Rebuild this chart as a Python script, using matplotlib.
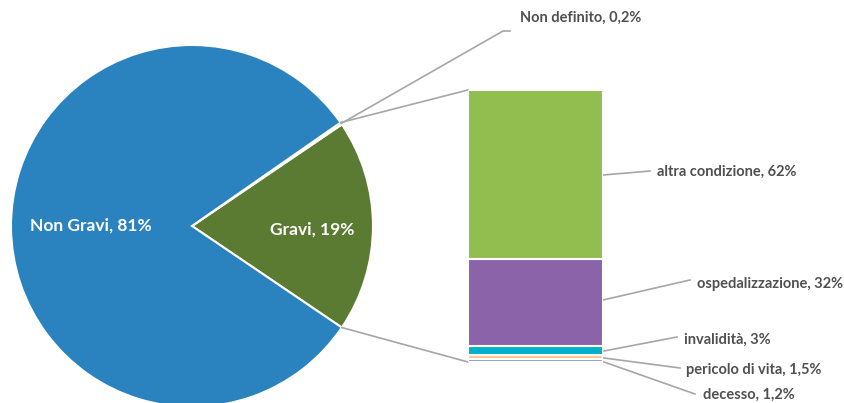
import matplotlib

matplotlib.use("Agg")
import matplotlib.pyplot as plt
import numpy as np

plt.rcParams["font.family"] = ["Lato", "DejaVu Sans"]

W, H = 844, 403

# pie: main split
pie_labels = ["Gravi", "Non definito", "Non Gravi"]
pie_values = [19, 0.2, 81]
pie_texts = ["19%", "0,2%", "81%"]
pie_colors = ["#5B7B32", "#A5A5A5", "#2A82BF"]

# stacked bar: breakdown of "Gravi", bottom to top
bar_labels = ["decesso", "pericolo di vita", "invalidità", "ospedalizzazione", "altra condizione"]
bar_values = [1.2, 1.5, 3, 32, 62]
bar_texts = ["1,2%", "1,5%", "3%", "32%", "62%"]
bar_colors = ["#7F9BC0", "#FBC28E", "#00AFCA", "#8B63A8", "#92BD4F"]

TEXT_GRAY = "#505050"
LINE_GRAY = "#A6A6A6"

fig = plt.figure(figsize=(W / 100, H / 100), dpi=100)
ax = fig.add_axes([0, 0, 1, 1])

cx, cy, r = 192, H - 226, 181
total = sum(pie_values)
start = -pie_values[0] / total * 180.0
wedges, _ = ax.pie(
    pie_values,
    colors=pie_colors,
    startangle=start,
    counterclock=True,
    center=(cx, cy),
    radius=r,
    wedgeprops=dict(edgecolor="white", linewidth=1.5),
    frame=True,
)
ax.set_xlim(0, W)
ax.set_ylim(0, H)
ax.set_aspect("equal")
ax.axis("off")

ax.text(30, cy, f"{pie_labels[2]}, {pie_texts[2]}", color="white", fontsize=12.5,
        fontweight="bold", va="center", ha="left")
ax.text(270, H - 230, f"{pie_labels[0]}, {pie_texts[0]}", color="white", fontsize=12.5,
        fontweight="bold", va="center", ha="left")

# stacked bar in its own axes
bx0, bx1, by0, by1 = 468, 603, 90, 362
bax = fig.add_axes([bx0 / W, (H - by1) / H, (bx1 - bx0) / W, (by1 - by0) / H])
bottoms = np.concatenate([[0], np.cumsum(bar_values)[:-1]])
bax.bar([0] * len(bar_values), bar_values, bottom=bottoms, width=1.0,
        color=bar_colors, edgecolor="white", linewidth=1.5)
bax.set_xlim(-0.5, 0.5)
bax.set_ylim(0, sum(bar_values))
bax.axis("off")

# connector lines from the Gravi wedge edges to the bar corners
a_top = np.deg2rad(start + (pie_values[0] + pie_values[1]) / total * 360.0)
a_bot = np.deg2rad(start)
ax.plot([cx + r * np.cos(a_top), bx0], [cy + r * np.sin(a_top), H - by0],
        color=LINE_GRAY, lw=1.2)
ax.plot([cx + r * np.cos(a_bot), bx0], [cy + r * np.sin(a_bot), H - by1],
        color=LINE_GRAY, lw=1.2)

# "Non definito" label with its leader
a_nd = np.deg2rad(start + (pie_values[0] + pie_values[1] / 2) / total * 360.0)
ax.plot([cx + r * np.cos(a_nd), 503, 510], [cy + r * np.sin(a_nd), H - 31, H - 31],
        color=LINE_GRAY, lw=1.2)
ax.text(520, H - 18, f"{pie_labels[1]}, {pie_texts[1]}", color=TEXT_GRAY, fontsize=10.5,
        fontweight="bold", va="center", ha="left")

# bar segment labels with leaders
label_pos = {
    "altra condizione": ((603, 175), (650, 171), (657, 172)),
    "ospedalizzazione": ((603, 300), (690, 280), (697, 284)),
    "invalidità": ((604, 351), (677, 337), (684, 340)),
    "pericolo di vita": ((604, 358), (680, 368), (686, 370)),
    "decesso": ((604, 362), (695, 394), (703, 395)),
}
for name, txt in zip(bar_labels, bar_texts):
    p0, p1, tp = label_pos[name]
    ax.plot([p0[0], p1[0]], [H - p0[1], H - p1[1]], color=LINE_GRAY, lw=1.2)
    ax.text(tp[0], H - tp[1], f"{name}, {txt}", color=TEXT_GRAY, fontsize=10.5,
            fontweight="bold", va="center", ha="left")

fig.savefig("out.png", dpi=100)
